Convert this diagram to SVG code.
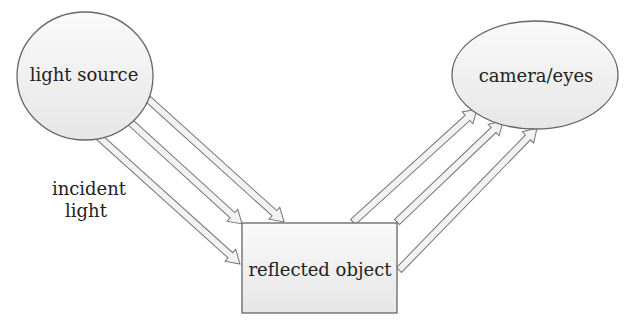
<svg xmlns="http://www.w3.org/2000/svg" width="627" height="320" viewBox="0 0 627 320">
<style>
.node{stroke:#666;stroke-width:1.3;fill:url(#g)}
.arr{fill:#f2f2f2;stroke:#777;stroke-width:1}
text{font-family:"DejaVu Serif","Liberation Serif",serif;fill:#222;font-size:18px;text-anchor:middle}
</style>
<defs>
<linearGradient id="g" x1="0" y1="0" x2="0" y2="1">
<stop offset="0" stop-color="#fafafa"/><stop offset="1" stop-color="#e6e6e6"/>
</linearGradient>
</defs>
<rect width="627" height="320" fill="#fff"/>
<g id="connectors">
<g transform="translate(148,99) rotate(42.1)"><polygon class="arr" points="0,-3.5 170.4,-3.5 170.4,-8 183.4,0 170.4,8 170.4,3.5 0,3.5"/></g>
<g transform="translate(130,122) rotate(42.3)"><polygon class="arr" points="0,-3.5 138.5,-3.5 138.5,-8 151.5,0 138.5,8 138.5,3.5 0,3.5"/></g>
<g transform="translate(99,137) rotate(42)"><polygon class="arr" points="0,-3.5 176.8,-3.5 176.8,-8 189.8,0 176.8,8 176.8,3.5 0,3.5"/></g>
<g transform="translate(353,222) rotate(-42.3)"><polygon class="arr" points="0,-3.5 154.8,-3.5 154.8,-8 167.8,0 154.8,8 154.8,3.5 0,3.5"/></g>
<g transform="translate(397,222) rotate(-43.6)"><polygon class="arr" points="0,-3.5 133.4,-3.5 133.4,-8 146.4,0 133.4,8 133.4,3.5 0,3.5"/></g>
<g transform="translate(399,270) rotate(-45.8)"><polygon class="arr" points="0,-3.5 185,-3.5 185,-8 198,0 185,8 185,3.5 0,3.5"/></g>
</g>
<g id="light-source">
<ellipse class="node" cx="85" cy="76" rx="68" ry="64"/>
<text x="84" y="81">light source</text>
</g>
<g id="camera">
<ellipse class="node" cx="535" cy="75" rx="83" ry="54"/>
<text x="536" y="82">camera/eyes</text>
</g>
<g id="reflected-object">
<rect class="node" x="242" y="223" width="155" height="90"/>
<text x="320" y="276">reflected object</text>
</g>
<g id="label">
<text x="89" y="195">incident</text>
<text x="86" y="217">light</text>
</g>
</svg>
